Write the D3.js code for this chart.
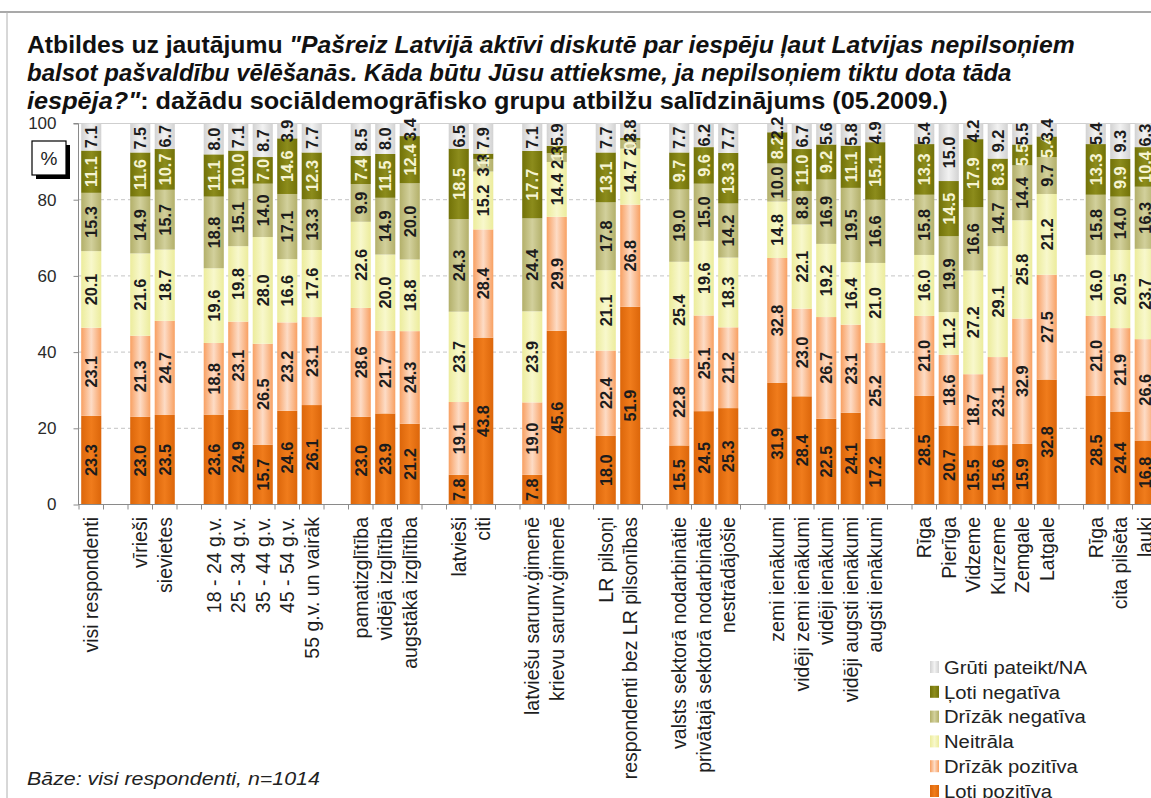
<!DOCTYPE html>
<html>
<head>
<meta charset="utf-8">
<script src="https://cdn.jsdelivr.net/npm/d3@7"></script>
<style>
  html, body { margin: 0; padding: 0; background: #fff; }
  svg { display: block; font-family: "Liberation Sans", Arial, sans-serif; }
</style>
</head>
<body>
<svg id="chart" width="1151" height="798"></svg>
<script>
// ---------------- DATA ----------------
const categories = [
  "visi respondenti",
  "vīrieši", "sievietes",
  "18 - 24 g.v.", "25 - 34 g.v.", "35 - 44 g.v.", "45 - 54 g.v.", "55 g.v. un vairāk",
  "pamatizglītība", "vidējā izglītība", "augstākā izglītība",
  "latvieši", "citi",
  "latviešu sarunv.ģimenē", "krievu sarunv.ģimenē",
  "LR pilsoņi", "respondenti bez LR pilsonības",
  "valsts sektorā nodarbinātie", "privātajā sektorā nodarbinātie", "nestrādājošie",
  "zemi ienākumi", "vidēji zemi ienākumi", "vidēji ienākumi", "vidēji augsti ienākumi", "augsti ienākumi",
  "Rīga", "Pierīga", "Vidzeme", "Kurzeme", "Zemgale", "Latgale",
  "Rīga", "cita pilsēta", "lauki"
];
// number of categories in each group (an empty slot separates groups)
const groupSizes = [1, 2, 5, 3, 2, 2, 2, 3, 5, 6, 3];

const seriesNames = ["Ļoti pozitīva", "Drīzāk pozitīva", "Neitrāla", "Drīzāk negatīva", "Ļoti negatīva", "Grūti pateikt/NA"];

const lotiPozitiva   = [23.3, 23.0, 23.5, 23.6, 24.9, 15.7, 24.6, 26.1, 23.0, 23.9, 21.2, 7.8, 43.8, 7.8, 45.6, 18.0, 51.9, 15.5, 24.5, 25.3, 31.9, 28.4, 22.5, 24.1, 17.2, 28.5, 20.7, 15.5, 15.6, 15.9, 32.8, 28.5, 24.4, 16.8];
const drizakPozitiva = [23.1, 21.3, 24.7, 18.8, 23.1, 26.5, 23.2, 23.1, 28.6, 21.7, 24.3, 19.1, 28.4, 19.0, 29.9, 22.4, 26.8, 22.8, 25.1, 21.2, 32.8, 23.0, 26.7, 23.1, 25.2, 21.0, 18.6, 18.7, 23.1, 32.9, 27.5, 21.0, 21.9, 26.6];
const neitrala       = [20.1, 21.6, 18.7, 19.6, 19.8, 28.0, 16.6, 17.6, 22.6, 20.0, 18.8, 23.7, 15.2, 23.9, 14.4, 21.1, 14.7, 25.4, 19.6, 18.3, 14.8, 22.1, 19.2, 16.4, 21.0, 16.0, 11.2, 27.2, 29.1, 25.8, 21.2, 16.0, 20.5, 23.7];
const drizakNegativa = [15.3, 14.9, 15.7, 18.8, 15.1, 14.0, 17.1, 13.3, 9.9, 14.9, 20.0, 24.3, 3.3, 24.4, 2.3, 17.8, 2.2, 19.0, 15.0, 14.2, 10.0, 8.8, 16.9, 19.5, 16.6, 15.8, 19.9, 16.6, 14.7, 14.4, 9.7, 15.8, 14.0, 16.3];
const lotiNegativa   = [11.1, 11.6, 10.7, 11.1, 10.0, 7.0, 14.6, 12.3, 7.4, 11.5, 12.4, 18.5, 1.4, 17.7, 1.9, 13.1, 0.6, 9.7, 9.6, 13.3, 8.2, 11.0, 9.2, 11.1, 15.1, 13.3, 14.5, 17.9, 8.3, 5.5, 5.4, 13.3, 9.9, 10.4];
const grutiPateikt   = [7.1, 7.5, 6.7, 8.0, 7.1, 8.7, 3.9, 7.7, 8.5, 8.0, 3.4, 6.5, 7.9, 7.1, 5.9, 7.7, 3.8, 7.7, 6.2, 7.7, 2.2, 6.7, 5.6, 5.8, 4.9, 5.4, 15.0, 4.2, 9.2, 5.5, 3.4, 5.4, 9.3, 6.3];

const yTicks = [0, 20, 40, 60, 80, 100];

// ---------------- STYLE ----------------
const seriesValues = [lotiPozitiva, drizakPozitiva, neitrala, drizakNegativa, lotiNegativa, grutiPateikt];
const gradStops = [
  ["#dc660a", "#f07c1c", "#dc660a"],
  ["#f8a062", "#fddcc6", "#f8a062"],
  ["#ecec9c", "#f8f8cc", "#ecec9c"],
  ["#b3b06a", "#d2d09c", "#b3b06a"],
  ["#727208", "#8c8c1c", "#727208"],
  ["#d2d2d2", "#f2f2f2", "#d2d2d2"]
];
const labelColors = ["#1c1c1c", "#1c1c1c", "#1c1c1c", "#1c1c1c", "#f6f4d2", "#1c1c1c"];

const svg = d3.select("#chart");
const W = 1151, H = 798;

// horizontally stretch a text element (anchored at left) to a target width
function stretchTo(sel, x0, y0, target) {
  const w = sel.node().getComputedTextLength();
  const sx = target / w;
  sel.attr("x", 0).attr("y", 0).attr("transform", `translate(${x0},${y0}) scale(${sx},1)`);
  return sx;
}

// gradients
const defs = svg.append("defs");
gradStops.forEach((st, i) => {
  const g = defs.append("linearGradient").attr("id", "g" + i)
    .attr("x1", "0%").attr("x2", "100%").attr("y1", "0%").attr("y2", "0%");
  g.append("stop").attr("offset", "0%").attr("stop-color", st[0]);
  g.append("stop").attr("offset", "50%").attr("stop-color", st[1]);
  g.append("stop").attr("offset", "100%").attr("stop-color", st[2]);
});

// frame
svg.append("line").attr("x1", 0).attr("x2", W).attr("y1", 12).attr("y2", 12)
  .attr("stroke", "#8c8c8c").attr("stroke-width", 1.5);
svg.append("line").attr("x1", 7).attr("x2", 7).attr("y1", 12).attr("y2", H)
  .attr("stroke", "#b0b0b0").attr("stroke-width", 1);

// ---------------- TITLE ----------------
const title = svg.append("g").attr("font-weight", "bold").attr("fill", "#111").attr("font-size", 23);
const t1 = title.append("text");
t1.append("tspan").text("Atbildes uz jautājumu ");
t1.append("tspan").attr("font-style", "italic").text("\"Pašreiz Latvijā aktīvi diskutē par iespēju ļaut Latvijas nepilsoņiem");
const t2 = title.append("text").attr("font-style", "italic")
  .text("balsot pašvaldību vēlēšanās. Kāda būtu Jūsu attieksme, ja nepilsoņiem tiktu dota tāda");
const t3 = title.append("text");
t3.append("tspan").attr("font-style", "italic").text("iespēja?\"");
t3.append("tspan").text(": dažādu sociāldemogrāfisko grupu atbilžu salīdzinājums (05.2009.)");
stretchTo(t1, 27, 53, 1048);
stretchTo(t2, 27, 81, 985);
stretchTo(t3, 27, 109, 921);

// ---------------- SCALES ----------------
const slotOf = [];
let s = 0;
groupSizes.forEach(n => {
  for (let k = 0; k < n; k++) slotOf.push(s++);
  s++; // gap between groups
});
const nSlots = slotOf[slotOf.length - 1] + 1;
const x = d3.scaleBand().domain(d3.range(nSlots)).range([79, 79 + nSlots * 24.5])
  .paddingInner(0.18).paddingOuter(0.09);
const step = x.step();
const slotLeft = i => 79 + i * step;
const y = d3.scaleLinear().domain([0, 100]).range([504.5, 123.5]);
const plotRight = W;

// gridlines
svg.append("g").selectAll("line").data(yTicks.filter(t => t > 0 && t < 100)).join("line")
  .attr("x1", 79).attr("x2", plotRight).attr("y1", d => y(d)).attr("y2", d => y(d))
  .attr("stroke", "#c4c4c4").attr("stroke-width", 1).attr("stroke-dasharray", "4,3");
svg.append("line").attr("x1", 79).attr("x2", plotRight).attr("y1", y(100)).attr("y2", y(100))
  .attr("stroke", "#cfcfcf").attr("stroke-width", 1.2);

// ---------------- BARS ----------------
const stackData = categories.map((c, i) => {
  const o = { idx: i };
  seriesNames.forEach((n, si) => o[si] = seriesValues[si][i]);
  return o;
});
const stack = d3.stack().keys(d3.range(seriesNames.length))(stackData);

const barsG = svg.append("g");
stack.forEach((layer, si) => {
  barsG.append("g").selectAll("rect").data(layer).join("rect")
    .attr("x", d => x(slotOf[d.data.idx]))
    .attr("width", x.bandwidth())
    .attr("y", d => y(d[1]))
    .attr("height", d => y(d[0]) - y(d[1]))
    .attr("fill", "url(#g" + si + ")");
});

// value labels
const labG = svg.append("g").attr("font-size", 16.3).attr("font-weight", "bold");
stack.forEach((layer, si) => {
  labG.append("g").selectAll("text").data(layer).join("text")
    .attr("transform", d => {
      const cx = x(slotOf[d.data.idx]) + x.bandwidth() / 2;
      const cy = y((d[0] + d[1]) / 2);
      return `translate(${cx},${cy}) rotate(-90)`;
    })
    .attr("text-anchor", "middle")
    .attr("dy", "0.36em")
    .attr("fill", labelColors[si])
    .text(d => d3.format(".1f")(d.data[si]));
});

// ---------------- AXES ----------------
const yAxis = d3.axisLeft(y).tickValues(yTicks).tickSize(5).tickPadding(17).tickFormat(d3.format("d"));
const yG = svg.append("g").attr("transform", "translate(78.5,0)").call(yAxis);
yG.select(".domain").attr("stroke", "#8a8a8a").attr("d", `M-5,${y(100)}H0V${y(0)}`);
yG.selectAll(".tick line").attr("stroke", "#8a8a8a");
yG.selectAll(".tick text").attr("font-size", 17).attr("fill", "#2a2a2a")
  .attr("font-family", "\"Liberation Sans\", Arial, sans-serif");

svg.append("line").attr("x1", 78).attr("x2", plotRight).attr("y1", y(0)).attr("y2", y(0))
  .attr("stroke", "#8a8a8a").attr("stroke-width", 1.2);
svg.append("g").selectAll("line").data(d3.range(nSlots + 1)).join("line")
  .attr("x1", d => slotLeft(d)).attr("x2", d => slotLeft(d))
  .attr("y1", y(0)).attr("y2", y(0) + 5)
  .attr("stroke", "#8a8a8a").attr("stroke-width", 1);

// x labels
svg.append("g").attr("font-size", 19.5).attr("fill", "#1e1e1e")
  .selectAll("text").data(categories).join("text")
  .attr("transform", (d, i) => `translate(${x(slotOf[i]) + x.bandwidth() / 2},517) rotate(-90)`)
  .attr("text-anchor", "end")
  .attr("dy", "0.36em")
  .text(d => d);

// % box
svg.append("rect").attr("x", 36).attr("y", 145).attr("width", 34).attr("height", 34).attr("fill", "#000");
svg.append("rect").attr("x", 32).attr("y", 141).attr("width", 34).attr("height", 34)
  .attr("fill", "#fff").attr("stroke", "#000").attr("stroke-width", 1.2);
svg.append("text").attr("x", 49).attr("y", 158).attr("dy", "0.36em").attr("text-anchor", "middle")
  .attr("font-size", 19).attr("fill", "#222").text("%");

// ---------------- LEGEND ----------------
const legendOrder = [5, 4, 3, 2, 1, 0];
const leg = svg.append("g");
let legSx = null;
legendOrder.forEach((si, k) => {
  const cy = 667 + k * 24.8;
  leg.append("rect").attr("x", 930).attr("y", cy - 6).attr("width", 9).attr("height", 12)
    .attr("fill", "url(#g" + si + ")");
  const t = leg.append("text").attr("dy", "0.36em")
    .attr("font-size", 19).attr("fill", "#222").text(seriesNames[si]);
  if (legSx === null) {
    legSx = stretchTo(t, 944, cy, 143);
  } else {
    t.attr("transform", `translate(944,${cy}) scale(${legSx},1)`);
  }
});

// base note
const base = svg.append("text").attr("font-style", "italic")
  .attr("font-size", 19).attr("fill", "#222").text("Bāze: visi respondenti, n=1014");
stretchTo(base, 27, 785, 293);
</script>
</body>
</html>
